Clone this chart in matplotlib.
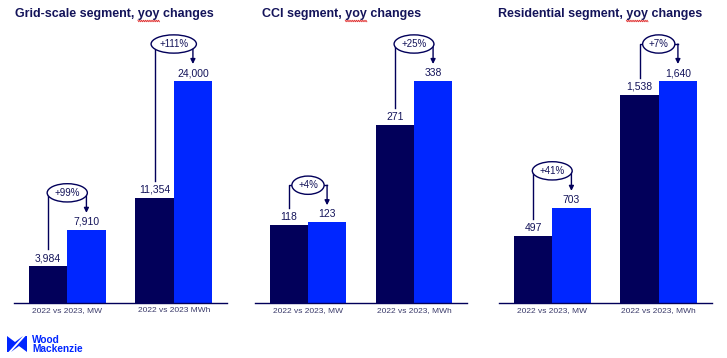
import numpy as np
import matplotlib
matplotlib.use("Agg")
import matplotlib.pyplot as plt
from matplotlib.patches import Polygon

plt.rcParams['font.family'] = ['Liberation Sans', 'DejaVu Sans']

# ---- data ----
titles = ["Grid-scale segment, yoy changes", "CCI segment, yoy changes", "Residential segment, yoy changes"]
categories = [["2022 vs 2023, MW", "2022 vs 2023 MWh"],
              ["2022 vs 2023, MW", "2022 vs 2023, MWh"],
              ["2022 vs 2023, MW", "2022 vs 2023, MWh"]]
values_2022 = [[3984, 11354], [118, 271], [497, 1538]]
values_2023 = [[7910, 24000], [123, 338], [703, 1640]]
changes = [["+99%", "+111%"], ["+4%", "+25%"], ["+41%", "+7%"]]

NAVY = "#02005A"
BLUE = "#0026FF"
TXT = "#14145A"
TICK = "#3A3A6A"

W, H = 727, 358
fig = plt.figure(figsize=(W / 100, H / 100), dpi=100)

# overlay axes in pixel coordinates for titles/logo
ov = fig.add_axes([0, 0, 1, 1], zorder=10)
ov.set_xlim(0, W)
ov.set_ylim(H, 0)
ov.axis('off')
ov.patch.set_alpha(0)

panel_left = [14, 255, 499]
panel_width = [213, 212, 213]
base_y = 303
ax_h = 222
title_x = [15, 262, 498]
bw = 0.36

for i in range(3):
    ax = fig.add_axes([panel_left[i] / W, (H - base_y) / H, panel_width[i] / W, ax_h / H])
    M = max(values_2023[i] + values_2022[i])
    ax.set_xlim(-0.5, 1.5)
    ax.set_ylim(0, M)
    px = M / ax_h  # data units per pixel
    x = np.arange(2)
    ax.bar(x - bw / 2, values_2022[i], bw, color=NAVY, zorder=2)
    ax.bar(x + bw / 2, values_2023[i], bw, color=BLUE, zorder=2)
    for s in ['top', 'right', 'left']:
        ax.spines[s].set_visible(False)
    ax.spines['bottom'].set_color(NAVY)
    ax.spines['bottom'].set_linewidth(1.0)
    ax.set_yticks([])
    ax.set_xticks(x)
    ax.set_xticklabels(categories[i], fontsize=6, color=TICK)
    ax.tick_params(axis='x', length=0, pad=3)
    ax.patch.set_alpha(0)
    for j in range(2):
        v1, v2 = values_2022[i][j], values_2023[i][j]
        x1, x2 = x[j] - bw / 2, x[j] + bw / 2
        ax.text(x1, v1 + 8 * px, f"{v1:,}", ha='center', va='center', fontsize=7.5, color=TXT, clip_on=False)
        ax.text(x2, v2 + 8 * px, f"{v2:,}", ha='center', va='center', fontsize=7.5, color=TXT, clip_on=False)
        ey = v2 + 37 * px
        ax.plot([x1, x1, x2], [v1 + 17 * px, ey, ey], color=NAVY, lw=1, clip_on=False, zorder=3)
        ax.annotate("", xy=(x2, v2 + 17 * px), xytext=(x2, ey),
                    arrowprops=dict(arrowstyle='-|>', color=NAVY, lw=1, mutation_scale=7,
                                    shrinkA=0, shrinkB=0), annotation_clip=False, zorder=3)
        ax.text(x[j], ey, changes[i][j], ha='center', va='center', fontsize=7, color=TXT,
                zorder=5, clip_on=False,
                bbox=dict(boxstyle='ellipse,pad=0.15', fc='white', ec=NAVY, lw=1))

    ov.text(title_x[i], 14, titles[i], ha='left', va='center', fontsize=9,
            fontweight='bold', color=TXT)

# red squiggle under "yoy"
fig.canvas.draw()
r = fig.canvas.get_renderer()
for i in range(3):
    pre = titles[i].split("yoy")[0]
    tp = ov.text(title_x[i], 14, pre, fontsize=9, fontweight='bold', ha='left', va='center')
    ty = ov.text(title_x[i], 14, "yoy", fontsize=9, fontweight='bold', ha='left', va='center')
    wpre = tp.get_window_extent(r).width
    wy = ty.get_window_extent(r).width
    tp.remove(); ty.remove()
    xs = np.linspace(title_x[i] + wpre, title_x[i] + wpre + wy, 24)
    ys = 21 + 0.8 * np.where(np.arange(24) % 2 == 0, -1, 1)
    ov.plot(xs, ys, color='#E03030', lw=0.6)

# logo
ov.add_patch(Polygon([(7, 336), (15, 342), (23, 336), (8.5, 352), (7, 352)], closed=True, color=BLUE, lw=0))
ov.add_patch(Polygon([(25.5, 336), (27, 336), (27, 352), (19, 346), (11, 352)], closed=True, color=BLUE, lw=0))
ov.text(32, 340, "Wood", fontsize=7.3, fontweight='bold', color=BLUE, ha='left', va='center')
ov.text(32, 349, "Mackenzie", fontsize=7.3, fontweight='bold', color=BLUE, ha='left', va='center')

fig.savefig("out.png", dpi=100)
